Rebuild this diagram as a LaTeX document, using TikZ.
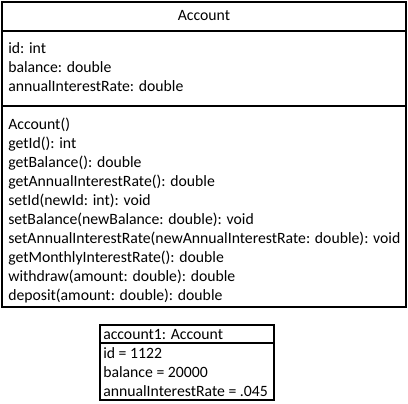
\documentclass[tikz,border=0pt]{standalone}
\usepackage{fontspec}
\setmainfont{Carlito}

\begin{document}
\begin{tikzpicture}[x=0.75pt,y=-0.75pt,font=\fontsize{11.8}{14.25}\selectfont,
    umltext/.style={anchor=base west,inner sep=0pt},
    umlbox/.style={line width=1pt}]
    \useasboundingbox (0,0) rectangle (408,404);

    % Class box
    \draw[umlbox] (2,2) rectangle (406,307);
    \draw[umlbox] (2,31) -- (406,31);
    \draw[umlbox] (2,106) -- (406,106);
    \node[anchor=base,inner sep=0pt] (classname) at (204,20) {Account};

    % Attributes
    \node[umltext] (attrid) at (8,53) {id: int};
    \node[umltext] (attrbal) at (8,72) {balance: double};
    \node[umltext] (attrrate) at (8,91) {annualInterestRate: double};

    % Operations
    \foreach \op [count=\i] in {Account(), getId(): int, getBalance(): double,
        getAnnualInterestRate(): double, setId(newId: int): void,
        setBalance(newBalance: double): void,
        setAnnualInterestRate(newAnnualInterestRate: double): void,
        getMonthlyInterestRate(): double, withdraw(amount: double): double,
        deposit(amount: double): double}
      \node[umltext] (op\i) at (8,110.5+19*\i) {\op};

    % Object box
    \draw[umlbox] (100,325) rectangle (274,400);
    \draw[umlbox] (100,343) -- (274,343);
    \node[umltext] (objname) at (103,339) {account1: Account};
    \node[umltext] (objid) at (103,358) {id = 1122};
    \node[umltext] (objbal) at (103,377) {balance = 20000};
    \node[umltext] (objrate) at (103,396) {annualInterestRate = .045};

\end{tikzpicture}
\end{document}
